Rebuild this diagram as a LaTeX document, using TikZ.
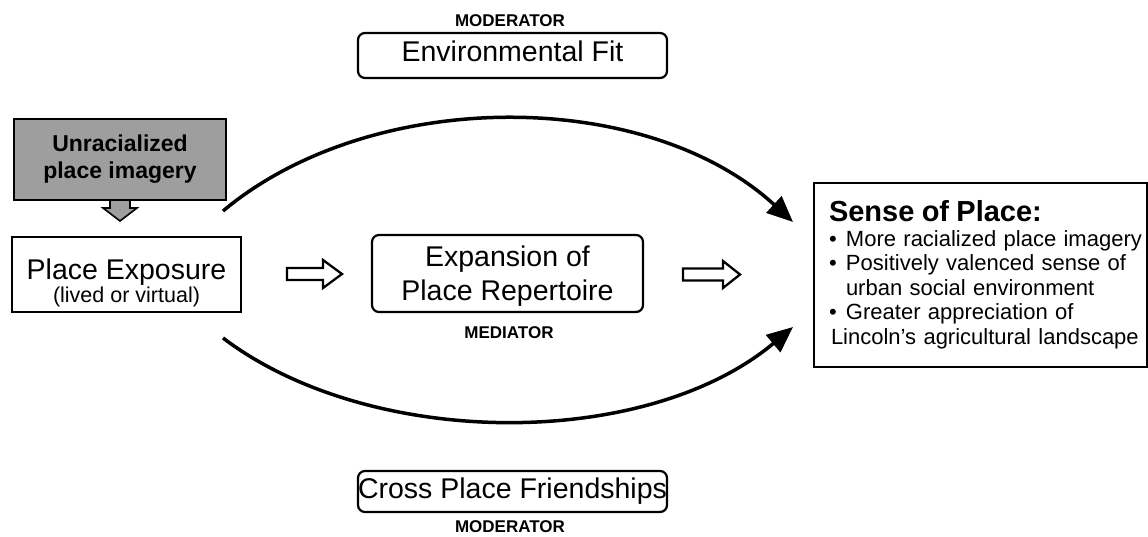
\documentclass[tikz,border=0pt]{standalone}
\usepackage{fontspec}
\setmainfont{Liberation Sans}
\usetikzlibrary{arrows.meta}
\begin{document}
\begin{tikzpicture}[x=1pt,y=-1pt,
  rbox/.style={draw, line width=2.2pt, rounded corners=7pt, inner sep=0pt, align=center, font=\fontsize{28.5}{34}\selectfont},
  sbox/.style={draw, line width=2pt, inner sep=0pt, align=center},
  lab/.style={inner sep=0pt, anchor=base, font=\bfseries\fontsize{17}{20}\selectfont},
  curve/.style={line width=3.5pt, -{Triangle[length=26pt,width=22pt]}},
  hollow/.style={draw, line width=2.3pt, line join=miter, fill=white},
]
\useasboundingbox (0,0) rectangle (1148,537);

% moderators and mediator
\node[rbox, minimum width=309pt, minimum height=45pt, text height=20pt, text depth=7pt] (env) at (512.5,55.5) {Environmental Fit};
\node[lab] (modtop) at (510,27) {MODERATOR};
\node[rbox, minimum width=309pt, minimum height=41pt] (cross) at (512.5,491.5) {Cross Place Friendships};
\node[lab] (modbot) at (510,532) {MODERATOR};
\node[rbox, minimum width=271pt, minimum height=77pt, text height=59pt, text depth=6pt] (exp) at (507.5,273.5) {Expansion of\\Place Repertoire};
\node[lab] (med) at (509,338) {MEDIATOR};

% left side
\node[sbox, fill=black!38, line width=2.5pt, minimum width=212pt, minimum height=81pt,
      font=\bfseries\fontsize{23}{27}\selectfont] (unr) at (120,159.5) {Unracialized\\place imagery};
\node[sbox, minimum width=229pt, minimum height=75pt, text height=60pt, text depth=5pt,
      font=\fontsize{28.5}{23}\selectfont] (pe) at (126.5,274.5)
      {Place Exposure\\{\fontsize{21.5}{23}\selectfont(lived or virtual)}};

% outcome
\node[sbox, anchor=north west, minimum width=333pt, minimum height=184pt, inner xsep=15pt,
      text width=303pt, align=left, font=\fontsize{22}{24.5}\selectfont] (sop) at (813,182)
 {{\bfseries\fontsize{29}{24.5}\selectfont Sense of Place:}\\
  \mbox{\makebox[17pt][l]{•}More racialized place imagery}\\
  \mbox{\makebox[17pt][l]{•}Positively valenced sense of}\\
  \mbox{\hspace*{17pt}urban social environment}\\
  \mbox{\makebox[17pt][l]{•}Greater appreciation of}\\
  \mbox{\hspace*{2pt}Lincoln’s agricultural landscape}};

% hollow block arrows
\draw[hollow, fill=black!38, line width=1.6pt] (110,200) -- (130,200) -- (130,208) -- (137,208) -- (120,221) -- (103,208) -- (110,208) -- cycle;
\draw[hollow] (287,268) -- (323,268) -- (323,260) -- (342,274) -- (323,288) -- (323,280) -- (287,280) -- cycle;
\draw[hollow] (683,268.5) -- (723,268.5) -- (723,261) -- (740,274.5) -- (723,288) -- (723,280.5) -- (683,280.5) -- cycle;

% moderated paths
\draw[curve] ([shift={(-19,-25)}]pe.north east) .. controls (371,87) and (646,87) .. ([shift={(-20,40)}]sop.north west);
\draw[curve] ([shift={(-19,25)}]pe.south east) .. controls (371,450) and (646,450) .. ([shift={(-20,145)}]sop.north west);
\end{tikzpicture}
\end{document}
